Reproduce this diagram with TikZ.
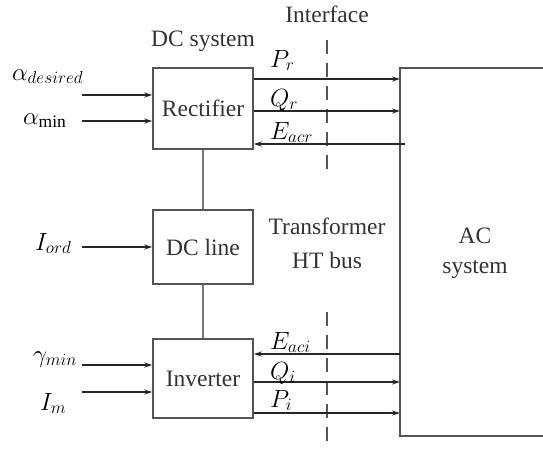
\documentclass[tikz,border=0pt]{standalone}
\usepackage{fontspec}
\setmainfont{Liberation Serif}
\usetikzlibrary{arrows.meta}
\definecolor{txt}{HTML}{333333}
\definecolor{boxc}{HTML}{555555}
\begin{document}
\begin{tikzpicture}[x=1pt,y=-1pt,
  every node/.style={text=txt,font=\fontsize{23.5}{30}\selectfont},
  blk/.style={draw=boxc,line width=1.5pt,minimum width=100pt,inner sep=0pt},
  arr/.style={draw=black!85,line width=1.1pt,-{Stealth[length=8pt,width=5pt]}},
  link/.style={draw=boxc!80,line width=2pt},
  lbl/.style={anchor=base west,inner sep=0pt,text=black,font=\fontsize{25}{28}\selectfont},
  ifc/.style={draw=boxc,line width=1.4pt,dash pattern=on 14pt off 9pt}]
\useasboundingbox (0,0) rectangle (543,448);
% blocks
\node[blk,minimum height=81pt] (rect) at (203,108.5) {Rectifier};
\node[blk,minimum height=74pt] (dcl) at (203,247) {DC line};
\node[blk,minimum height=79pt] (inv) at (203,378.5) {Inverter};
\draw[link] (rect.south) -- (dcl.north);
\draw[link] (dcl.south) -- (inv.north);
% AC system
\coordinate (actl) at (543,68);
\coordinate (acbl) at (543,436);
\draw[draw=boxc,line width=1.8pt] (actl) -- (400,68) -- (400,436) -- (acbl);
\node[align=center,font=\fontsize{23.5}{30}\selectfont] (acs) at (475,253) {AC\\system};
% texts
\node (dcs) at (203,41) {DC system};
\node (ifx) at (327,14) {Interface};
\node[align=center,font=\fontsize{23.5}{34}\selectfont] (thb) at (327,243) {Transformer\\HT bus};
% interface dashed line
\coordinate (ifa) at (327,40);
\coordinate (ifb) at (327,175);
\coordinate (ifc) at (327,312);
\coordinate (ifd) at (327,448);
\draw[ifc] (ifa) -- (ifb);
\draw[ifc] (ifc) -- (ifd);
% left inputs
\coordinate (iad) at (82,95);
\coordinate (iam) at (82,121);
\coordinate (iord) at (82,247);
\coordinate (igm) at (82,365);
\coordinate (iim) at (82,392);
\draw[arr] (iad) -- (rect.west |- iad);
\draw[arr] (iam) -- (rect.west |- iam);
\draw[arr] (iord) -- (dcl.west |- iord);
\draw[arr] (igm) -- (inv.west |- igm);
\draw[arr] (iim) -- (inv.west |- iim);
\node[lbl] (lad) at (12,80) {$\alpha_{desired}$};
\node[lbl] (lam) at (23,124) {$\alpha_{\min}$};
\node[lbl] (lord) at (35,250) {$I_{ord}$};
\node[lbl] (lgm) at (33,362) {$\gamma_{min}$};
\node[lbl] (lim) at (40,410) {$I_{m}$};
% right side
\coordinate (apr) at (400,79);
\coordinate (aqr) at (400,111);
\coordinate (aer) at (405,144);
\coordinate (aei) at (400,354);
\coordinate (aqi) at (400,382);
\coordinate (api) at (400,413);
\draw[arr] (rect.east |- apr) -- (apr);
\draw[arr] (rect.east |- aqr) -- (aqr);
\draw[arr] (aer) -- (rect.east |- aer);
\draw[arr] (aei) -- (inv.east |- aei);
\draw[arr] (inv.east |- aqi) -- (aqi);
\draw[arr] (inv.east |- api) -- (api);
\node[lbl] (lpr) at (270,67) {$P_r$};
\node[lbl] (lqr) at (270,106) {$Q_r$};
\node[lbl] (ler) at (270,139) {$E_{acr}$};
\node[lbl] (lei) at (270,349) {$E_{aci}$};
\node[lbl] (lqi) at (270,379) {$Q_i$};
\node[lbl] (lpi) at (270,407) {$P_i$};
\end{tikzpicture}
\end{document}
